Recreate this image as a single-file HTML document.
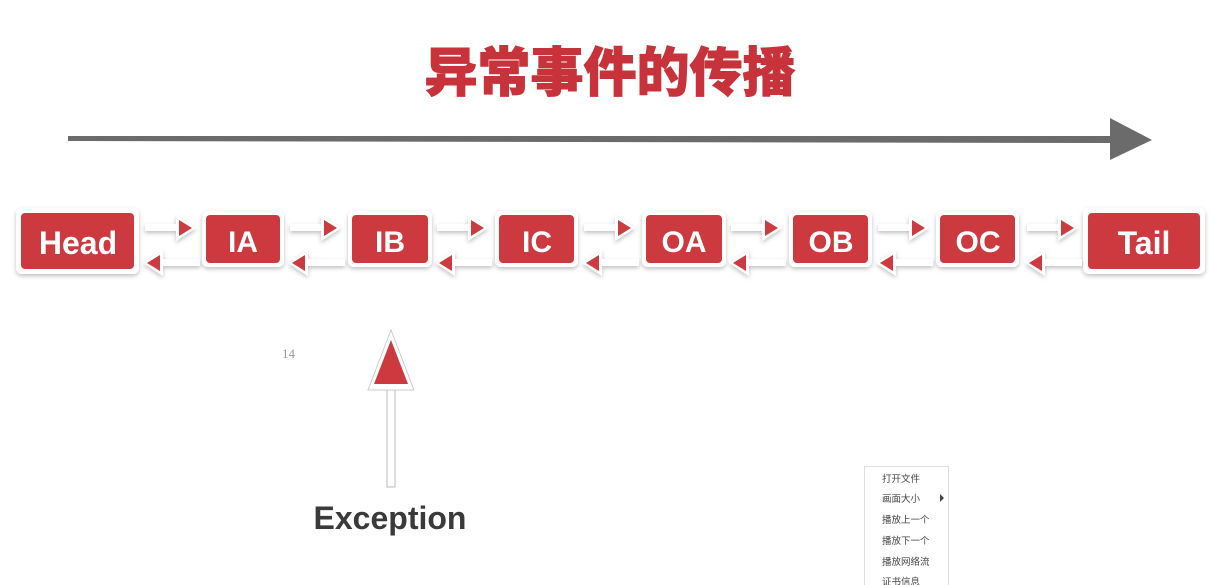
<!DOCTYPE html>
<html><head><meta charset="utf-8"><style>
body{margin:0;width:1226px;height:585px;overflow:hidden;background:#fff;font-family:"Liberation Sans","Noto Sans CJK SC",sans-serif}
</style></head><body>
<svg width="1226" height="585" xmlns="http://www.w3.org/2000/svg" style="position:absolute;left:0;top:0">
<defs><filter id="sh" x="-20%" y="-20%" width="140%" height="150%"><feDropShadow dx="0" dy="2" stdDeviation="2" flood-color="#000" flood-opacity="0.25"/></filter></defs>
<text x="610" y="91" text-anchor="middle" font-family="'Liberation Sans','Noto Sans CJK SC',sans-serif" font-weight="900" font-size="53" fill="#c8323a" stroke="#c8323a" stroke-width="1">异常事件的传播</text>
<polygon points="68,136 1110,136 1110,118 1152,140 1110,160 1110,143 68,141" fill="#6b6b6b"/>
<g font-family="'Liberation Sans','DejaVu Sans',sans-serif" font-weight="bold" fill="#fff" text-anchor="middle">
<g filter="url(#sh)">
<rect x="16" y="208" width="123" height="66" rx="6" fill="#fff"/>
<rect x="202" y="211" width="82" height="56" rx="6" fill="#fff"/>
<rect x="348" y="211" width="84" height="56" rx="6" fill="#fff"/>
<rect x="495" y="211" width="83" height="56" rx="6" fill="#fff"/>
<rect x="642" y="211" width="84" height="56" rx="6" fill="#fff"/>
<rect x="789" y="211" width="83" height="56" rx="6" fill="#fff"/>
<rect x="936" y="211" width="83" height="56" rx="6" fill="#fff"/>
<rect x="1083" y="208" width="122" height="66" rx="6" fill="#fff"/>
</g>
<rect x="21" y="213" width="113" height="56" rx="4" fill="#cc3a40"/>
<rect x="206" y="215" width="74" height="48" rx="4" fill="#cc3a40"/>
<rect x="352" y="215" width="76" height="48" rx="4" fill="#cc3a40"/>
<rect x="499" y="215" width="75" height="48" rx="4" fill="#cc3a40"/>
<rect x="646" y="215" width="76" height="48" rx="4" fill="#cc3a40"/>
<rect x="793" y="215" width="75" height="48" rx="4" fill="#cc3a40"/>
<rect x="940" y="215" width="75" height="48" rx="4" fill="#cc3a40"/>
<rect x="1088" y="213" width="112" height="56" rx="4" fill="#cc3a40"/>
<text x="78" y="254" font-size="32">Head</text>
<text x="243" y="252" font-size="30">IA</text>
<text x="390" y="252" font-size="30">IB</text>
<text x="537" y="252" font-size="30">IC</text>
<text x="684" y="252" font-size="30">OA</text>
<text x="831" y="252" font-size="30">OB</text>
<text x="978" y="252" font-size="30">OC</text>
<text x="1144" y="254" font-size="32">Tail</text>
</g>
<g id="c" filter="url(#sh)">
<rect x="145" y="224" width="36" height="7" fill="#fff"/>
<polygon points="176,215 196,228 176,241" fill="#fff"/>
<polygon points="179,220 192,228 179,236" fill="#cc3a40"/>
<rect x="160" y="259" width="40" height="7" fill="#fff"/>
<polygon points="163,250 143,263 163,276" fill="#fff"/>
<polygon points="160,255 147,263 160,271" fill="#cc3a40"/>
</g>
<use href="#c" x="145"/><use href="#c" x="292"/><use href="#c" x="439"/><use href="#c" x="586"/><use href="#c" x="733"/><use href="#c" x="882"/>
<text x="282" y="358" font-family="'Liberation Serif',serif" font-size="13" fill="#999">14</text>
<rect x="387" y="383" width="8" height="104" fill="#fff" stroke="#bbb" stroke-width="1"/>
<polygon points="391,330 368,390 414,390" fill="#fff" stroke="#ccc" stroke-width="1"/>
<polygon points="391,340 374,384 408,384" fill="#cc3a40"/>
<text x="390" y="529" text-anchor="middle" font-family="'Liberation Sans',sans-serif" font-weight="bold" font-size="32" fill="#3a3a3a">Exception</text>
<rect x="864.5" y="466.5" width="84" height="125" fill="#fff" stroke="#ddd"/>
<g font-family="'Noto Sans CJK SC',sans-serif" font-size="9.5" fill="#444">
<text x="882" y="482">打开文件</text>
<text x="882" y="502">画面大小</text>
<text x="882" y="523">播放上一个</text>
<text x="882" y="544">播放下一个</text>
<text x="882" y="565">播放网络流</text>
<text x="882" y="585">证书信息</text>
</g>
<polygon points="940,494 944,498 940,502" fill="#444"/>
</svg>
</body></html>
